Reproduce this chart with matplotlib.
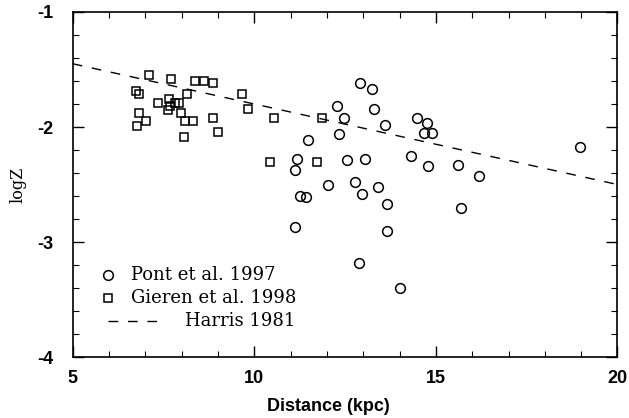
import matplotlib.pyplot as plt
import numpy as np

plt.rcParams['axes.unicode_minus'] = False

# Pont et al. 1997 (circles)
pont_r = np.array([12.90, 13.25, 12.28, 13.29, 12.48, 13.59, 14.47, 14.76, 14.67, 14.90,
                   11.48, 12.32, 11.18, 11.11, 12.54, 13.06, 14.32, 14.79, 12.04, 12.76,
                   13.41, 11.27, 11.43, 12.96, 13.65, 11.12, 13.64, 15.62, 16.18, 15.68,
                   18.98, 12.89, 14.02])
pont_z = np.array([-1.62, -1.67, -1.82, -1.84, -1.92, -1.98, -1.925, -1.965, -2.05, -2.05,
                   -2.11, -2.06, -2.28, -2.37, -2.29, -2.28, -2.25, -2.34, -2.50, -2.48,
                   -2.52, -2.60, -2.61, -2.58, -2.67, -2.87, -2.90, -2.33, -2.43, -2.70,
                   -2.17, -3.185, -3.40])

# Gieren et al. 1998 (squares)
gieren_r = np.array([7.09, 7.70, 8.36, 8.61, 8.86, 6.75, 6.82, 8.14, 9.67, 7.35,
                     7.66, 7.68, 7.63, 7.82, 7.93, 6.83, 7.97, 9.83, 7.02, 6.78,
                     8.09, 8.31, 8.85, 8.07, 8.99, 10.54, 11.87, 10.43, 11.72])
gieren_z = np.array([-1.548, -1.583, -1.60, -1.60, -1.615, -1.69, -1.71, -1.716, -1.716, -1.79,
                     -1.76, -1.82, -1.85, -1.79, -1.79, -1.88, -1.88, -1.84, -1.95, -1.99,
                     -1.95, -1.95, -1.92, -2.09, -2.04, -1.92, -1.92, -2.30, -2.30])

# Harris 1981 gradient
harris_r = np.array([5.0, 20.0])
harris_z = np.array([-1.45, -2.50])

fig = plt.figure(figsize=(6.29, 4.18), dpi=100)
ax = fig.add_axes([0.1156, 0.1459, 0.8661, 0.8254])

ax.plot(pont_r, pont_z, 'o', mfc='none', mec='black', mew=1.1, ms=7)
ax.plot(gieren_r, gieren_z, 's', mfc='none', mec='black', mew=1.1, ms=6.3)
ax.plot(harris_r, harris_z, color='black', lw=1.0, dashes=(7, 7))

ax.set_xlim(5, 20)
ax.set_ylim(-4, -1)
ax.set_xticks([5, 10, 15, 20])
ax.set_yticks([-4, -3, -2, -1])
ax.set_xticks(np.arange(5, 20.01, 1), minor=True)
ax.set_yticks(np.arange(-4, -0.99, 0.2), minor=True)
ax.tick_params(which='both', direction='in', top=True, right=True, color='black')
ax.tick_params(which='major', length=8, width=1.0)
ax.tick_params(which='minor', length=4, width=0.8)
ax.tick_params(axis='x', which='major', pad=9)
ax.tick_params(axis='y', which='major', pad=14)
for lab in ax.get_xticklabels() + ax.get_yticklabels():
    lab.set_fontfamily('Liberation Sans')
    lab.set_fontsize(13)
    lab.set_fontweight('bold')
for s in ax.spines.values():
    s.set_linewidth(1.2)

ax.set_xlabel('Distance (kpc)', family='Liberation Sans', fontsize=13, fontweight='bold')
ax.xaxis.set_label_coords(0.47, -0.12)
ax.set_ylabel('logZ', family='DejaVu Serif', fontsize=11.5)
ax.yaxis.set_label_coords(-0.085, 0.5)

# hand-placed key, as in the original
ax.plot([0.064], [0.238], 'o', mfc='none', mec='black', mew=1.1, ms=7, transform=ax.transAxes, clip_on=False)
ax.plot([0.064], [0.171], 's', mfc='none', mec='black', mew=1.1, ms=6.3, transform=ax.transAxes, clip_on=False)
ax.plot([0.064, 0.166], [0.104, 0.104], color='black', lw=1.0, dashes=(7, 7), transform=ax.transAxes)
kw = dict(transform=ax.transAxes, family='DejaVu Serif', fontsize=13, va='center')
ax.text(0.107, 0.238, 'Pont et al. 1997', **kw)
ax.text(0.107, 0.171, 'Gieren et al. 1998', **kw)
ax.text(0.206, 0.104, 'Harris 1981', **kw)

plt.savefig('out.png', dpi=100)
